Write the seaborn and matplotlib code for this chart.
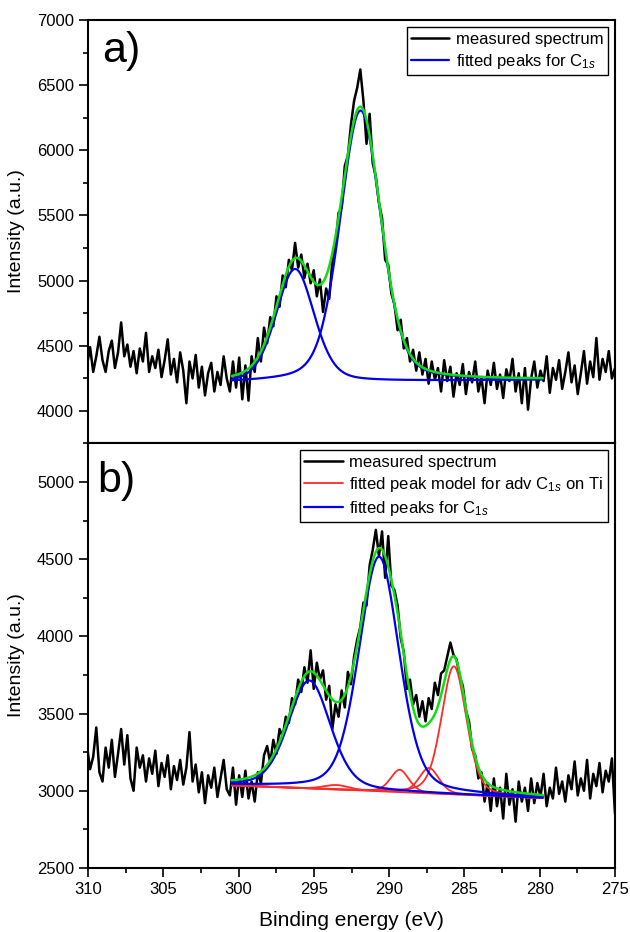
import numpy as np
import pandas as pd
import matplotlib
matplotlib.use("Agg")
import matplotlib.pyplot as plt
import seaborn as sns
from matplotlib.ticker import MultipleLocator

# binding energy grid of the measured scans (eV)
energy = np.linspace(311.1, 275.0, 176)

# a) measured spectrum (counts)
counts_a = [
    4380, 4510, 4330, 4470, 4560, 4350, 4490, 4300, 4420, 4570,
    4390, 4300, 4460, 4540, 4330, 4450, 4680, 4420, 4510, 4340,
    4460, 4290, 4480, 4380, 4600, 4300, 4420, 4330, 4470, 4260,
    4390, 4550, 4280, 4400, 4220, 4450, 4310, 4060, 4380, 4250,
    4430, 4180, 4340, 4120, 4290, 4370, 4150, 4300, 4200, 4420,
    4250, 4150, 4380, 4180, 4410, 4090, 4350, 4080, 4420, 4300,
    4560, 4380, 4640, 4520, 4720, 4650, 4880, 4800, 5040, 4950,
    5160, 5080, 5290, 5100, 5200, 5020, 5130, 4980, 5080, 4880,
    5010, 4760, 4940, 4860, 5150, 5260, 5520, 5560, 5880, 5960,
    6200, 6380, 6480, 6620, 6380, 6050, 6280, 5900, 5800, 5600,
    5480, 5160, 5120, 4900, 4820, 4620, 4700, 4480, 4560, 4380,
    4470, 4310, 4450, 4280, 4400, 4210, 4380, 4240, 4330, 4150,
    4390, 4230, 4340, 4110, 4290, 4200, 4360, 4130, 4300, 4220,
    4380, 4150, 4260, 4060, 4310, 4200, 4370, 4170, 4280, 4100,
    4320, 4230, 4400, 4150, 4290, 4060, 4330, 4010, 4250, 4380,
    4180, 4310, 4230, 4420, 4140, 4330, 4240, 4390, 4170, 4300,
    4450, 4220, 4350, 4130, 4290, 4460, 4210, 4380, 4260, 4560,
    4240, 4400, 4300, 4460, 4250, 4330,
]

# b) measured spectrum (counts)
counts_b = [
    3250, 3130, 3240, 3050, 3080, 3290, 3140, 3220, 3410, 3120,
    3060, 3280, 3150, 3330, 3090, 3240, 3400, 3170, 3360, 3080,
    3000, 3280, 3150, 3230, 3060, 3210, 3110, 3260, 3030, 3180,
    3090, 3230, 3010, 3160, 3070, 3200, 3040, 3150, 3380, 3060,
    3170, 2990, 3120, 2920, 3100, 3020, 3150, 2960, 3080, 3200,
    3010, 2970, 3150, 2910, 3100, 2960, 3130, 2950, 3060, 2930,
    3120, 3050, 3230, 3290, 3180, 3330, 3240, 3400, 3350, 3480,
    3440, 3600, 3560, 3720, 3640, 3800, 3700, 3910, 3660, 3830,
    3720, 3780, 3590, 3680, 3400, 3560, 3480, 3650, 3540, 3770,
    3690, 3870, 3980, 4060, 4220, 4200, 4460, 4560, 4690, 4520,
    4680, 4380, 4650, 4330, 4300, 4200, 3990, 3900, 3660, 3720,
    3560, 3620, 3480, 3580, 3450, 3600, 3530, 3700, 3620, 3760,
    3780, 3870, 3960, 3880, 3850, 3740, 3680, 3520, 3450, 3270,
    3230, 3080, 3120, 2930, 3050, 2870, 3080, 2900, 3020, 2820,
    3110, 2910, 3010, 2800, 3060, 2930, 3020, 2870, 3080, 2920,
    3050, 2960, 3110, 2900, 3020, 2950, 3150, 2980, 3060, 2930,
    3100, 3010, 3190, 2970, 3080, 3000, 3200, 2950, 3110, 3030,
    3180, 2990, 3130, 3060, 3210, 2850,
]

# fitted components: centre (eV), height above background, FWHM (eV)
fit_start, fit_end = 300.45, 279.8
c1s_a_center = [296.25, 291.9]
c1s_a_height = [870, 2080]
c1s_a_fwhm = [3.0, 3.2]
bg_a = [4215, 4240]

c1s_b_center = [295.3, 290.67]
c1s_b_height = [700, 1520]
c1s_b_fwhm = [3.3, 3.15]
ti_center = [293.5, 289.3, 287.35, 285.7]
ti_height = [30, 145, 165, 830]
ti_fwhm = [2.0, 1.45, 1.55, 1.95]
bg_b = [3035, 2953]


def pseudo_voigt(x, c, h, w, mix=0.3):
    g = np.exp(-4 * np.log(2) * ((x - c) / w) ** 2)
    lor = 1 / (1 + 4 * ((x - c) / w) ** 2)
    return h * ((1 - mix) * g + mix * lor)


fit_e = np.linspace(fit_start, fit_end, 400)

sns.set_style("ticks")
plt.rcParams["font.family"] = ["Liberation Sans", "DejaVu Sans"]
plt.rcParams["mathtext.fontset"] = "custom"
plt.rcParams["mathtext.rm"] = "Liberation Sans"
plt.rcParams["mathtext.it"] = "Liberation Sans:italic"
for key in ["text.color", "axes.labelcolor", "xtick.color", "ytick.color",
            "axes.edgecolor"]:
    plt.rcParams[key] = "black"

BLACK, BLUE, RED, GREEN = "black", "#0000ee", "#ff2a2a", "#11dd11"

fig = plt.figure(figsize=(6.3, 9.32), dpi=100)
ax_a = fig.add_axes([0.1397, 0.5247, 0.8365, 0.4539])
ax_b = fig.add_axes([0.1397, 0.0687, 0.8365, 0.456])


def draw_panel(ax, counts, bg, peaks, ti_peaks=None):
    spec = pd.DataFrame({"energy": energy, "counts": counts})
    sns.lineplot(data=spec, x="energy", y="counts", ax=ax, color=BLACK,
                 lw=1.8, estimator=None, zorder=2)
    base = np.interp(fit_e, [fit_end, fit_start], [bg[1], bg[0]])
    total = base.copy()
    if ti_peaks is not None:
        for c, h, w in zip(*ti_peaks):
            comp = pseudo_voigt(fit_e, c, h, w)
            total += comp
            sns.lineplot(x=fit_e, y=base + comp, ax=ax, color=RED, lw=1.3,
                         estimator=None, sort=False, zorder=3)
    for c, h, w in zip(*peaks):
        comp = pseudo_voigt(fit_e, c, h, w)
        total += comp
        sns.lineplot(x=fit_e, y=base + comp, ax=ax, color=BLUE, lw=1.6,
                     estimator=None, sort=False, zorder=4)
    sns.lineplot(x=fit_e, y=total, ax=ax, color=GREEN, lw=1.8,
                 estimator=None, sort=False, zorder=5)


draw_panel(ax_a, counts_a, bg_a, (c1s_a_center, c1s_a_height, c1s_a_fwhm))
draw_panel(ax_b, counts_b, bg_b, (c1s_b_center, c1s_b_height, c1s_b_fwhm),
           (ti_center, ti_height, ti_fwhm))

for ax, lim in [(ax_a, (3755, 7000)), (ax_b, (2500, 5253))]:
    ax.set_xlim(310, 275)
    ax.set_ylim(*lim)
    ax.xaxis.set_major_locator(MultipleLocator(5))
    ax.xaxis.set_minor_locator(MultipleLocator(2.5))
    ax.yaxis.set_major_locator(MultipleLocator(500))
    ax.yaxis.set_minor_locator(MultipleLocator(250))
    ax.tick_params(which="major", length=6.5, width=1.2, direction="out",
                   labelsize=12)
    ax.tick_params(which="minor", length=3.5, width=1.2, direction="out")
    for sp in ax.spines.values():
        sp.set_linewidth(1.5)
    ax.set_ylabel("Intensity (a.u.)", fontsize=14)
    ax.yaxis.set_label_coords(-0.12, 0.5)
    ax.set_xlabel("")

ax_a.tick_params(axis="x", which="both", bottom=False, labelbottom=False)
ax_b.set_xlabel("Binding energy (eV)", fontsize=15, labelpad=10)

ax_a.text(0.027, 0.90, "a)", transform=ax_a.transAxes, fontsize=31,
          va="baseline")
ax_b.text(0.017, 0.885, "b)", transform=ax_b.transAxes, fontsize=31,
          va="baseline")

leg_kw = dict(loc="upper right", fontsize=12, frameon=True, fancybox=False,
              edgecolor="black", framealpha=1, handlelength=2.3,
              labelspacing=0.3, borderpad=0.25, borderaxespad=0.45,
              handletextpad=0.4)
la = ax_a.get_lines()
ax_a.legend([la[0], la[1]],
            ["measured spectrum", r"fitted peaks for C$_{\mathit{1s}}$"],
            **leg_kw).get_frame().set_linewidth(1.0)
lb = ax_b.get_lines()
ax_b.legend([lb[0], lb[1], lb[5]],
            ["measured spectrum",
             r"fitted peak model for adv C$_{\mathit{1s}}$ on Ti",
             r"fitted peaks for C$_{\mathit{1s}}$"],
            **leg_kw).get_frame().set_linewidth(1.0)

fig.savefig("out.png", dpi=100)
